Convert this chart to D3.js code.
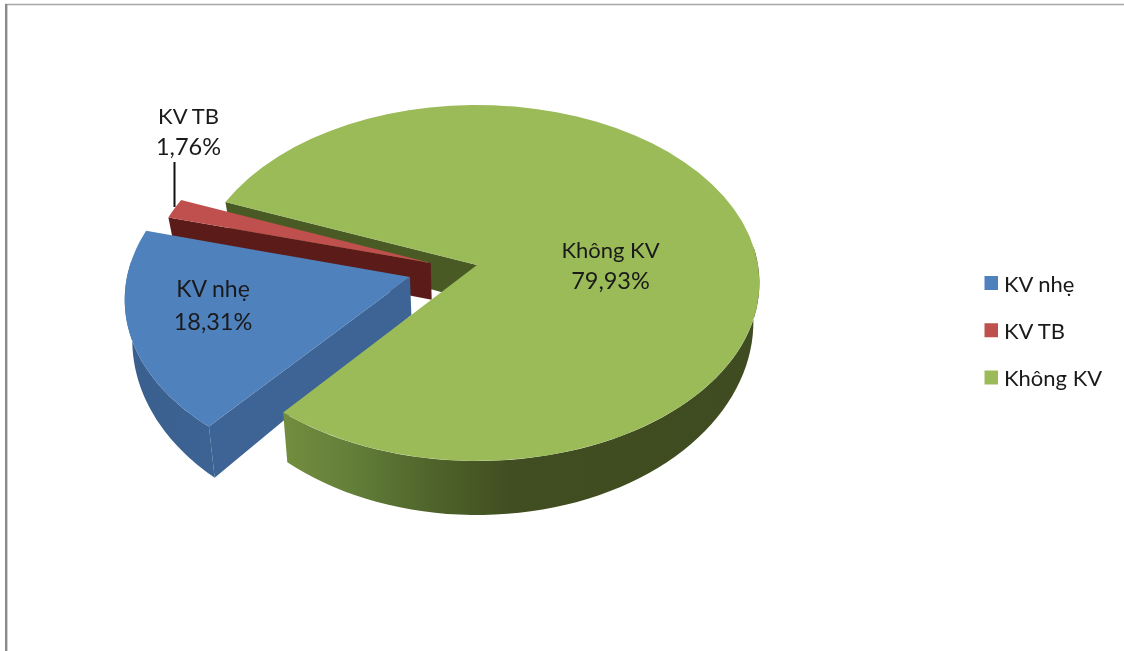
<!DOCTYPE html>
<html><head><meta charset="utf-8">
<script src="https://cdn.jsdelivr.net/npm/d3@7"></script>
<style>html,body{margin:0;padding:0;background:#fff}svg{display:block;font-family:Lato,"Open Sans",sans-serif;filter:blur(0.35px)}</style>
</head><body><div id="c"></div>
<script>
const categories = ["KV nhẹ", "KV TB", "Không KV"];
const values = [18.31, 1.76, 79.93];
const valueLabels = ["18,31%", "1,76%", "79,93%"];
const topColors = ["#4f81bd", "#c0504d", "#9bbb59"];
const wallColors = ["#3d6494", "#5a1b19", "#4a5a25"];

const W = 1124, H = 651;
const svg = d3.select("#c").append("svg").attr("width", W).attr("height", H);

// Frame of the screenshot
svg.append("rect").attr("x", 5).attr("y", 4).attr("width", W).attr("height", H).attr("fill", "#fff");
svg.append("line").attr("x1", 5).attr("x2", W).attr("y1", 4.5).attr("y2", 4.5).attr("stroke", "#a6a6a6").attr("stroke-width", 1.5);
svg.append("line").attr("x1", 6.2).attr("x2", 6.2).attr("y1", 4).attr("y2", H).attr("stroke", "#8a8a8a").attr("stroke-width", 2.4);

// Perspective plane projections for top and bottom of the pie
const cx = 477, persp = -0.101;
const plane = (d, a, b) => ([u, v]) => {
  const k = 1 + persp * v;
  return [cx + d * u / k, (a * v + b) / k];
};
const topP = plane(281, 149.4, 265);
const botP = plane(275, 161, 302);

const start = 219.5 * Math.PI / 180;
const arcs = d3.pie().sort(null).startAngle(start).endAngle(start + 2 * Math.PI)(values);
const offsets = [[-0.237, 0.068], [-0.165, -0.012], [0, 0]];
const line = d3.line();

const pt = (i, t) => [Math.sin(t) + offsets[i][0], -Math.cos(t) + offsets[i][1]];
const apex = i => offsets[i];
const sample = (a, b) => d3.range(0, 61).map(k => a + (b - a) * k / 60);

function sector(i) {
  const a = arcs[i];
  return line([apex(i), ...sample(a.startAngle, a.endAngle).map(t => pt(i, t))].map(topP)) + "Z";
}
function outerWall(i, a, b) {
  const ts = sample(a, b);
  return line([...ts.map(t => topP(pt(i, t))), ...ts.slice().reverse().map(t => botP(pt(i, t)))]) + "Z";
}
function sideWall(i, t) {
  const p = pt(i, t), q = apex(i);
  return line([topP(q), topP(p), botP(p), botP(q)]) + "Z";
}

const defs = svg.append("defs");
const g = defs.append("linearGradient").attr("id", "gw").attr("gradientUnits", "userSpaceOnUse")
  .attr("x1", 285).attr("x2", 760).attr("y1", 0).attr("y2", 0);
[[0, "#738d3e"], [0.13, "#64803a"], [0.3, "#50652b"], [0.47, "#414e21"], [1, "#3f4b20"]]
  .forEach(([o, c]) => g.append("stop").attr("offset", o).attr("stop-color", c));
const gb = defs.append("linearGradient").attr("id", "bw").attr("gradientUnits", "userSpaceOnUse")
  .attr("x1", 125).attr("x2", 260).attr("y1", 0).attr("y2", 0);
[[0, "#3a5f8e"], [0.6, "#3c6393"], [1, "#3a5f8e"]]
  .forEach(([o, c]) => gb.append("stop").attr("offset", o).attr("stop-color", c));

const pie = svg.append("g");
const rad = d => d * Math.PI / 180;

// hidden-side wall of the large slice
pie.append("path").attr("d", sideWall(2, arcs[2].startAngle)).attr("fill", wallColors[2]);
// small slice
pie.append("path").attr("d", sideWall(1, arcs[1].startAngle)).attr("fill", wallColors[1]);
pie.append("path").attr("d", sector(1)).attr("fill", topColors[1]);
// first slice
pie.append("path").attr("d", outerWall(0, arcs[0].startAngle, rad(275))).attr("fill", "url(#bw)");
pie.append("path").attr("d", sideWall(0, arcs[0].startAngle)).attr("fill", wallColors[0]);
pie.append("path").attr("d", sector(0)).attr("fill", topColors[0]);
// large slice
pie.append("path").attr("d", outerWall(2, rad(444), start + 2 * Math.PI)).attr("fill", "url(#gw)");
pie.append("path").attr("d", sector(2)).attr("fill", topColors[2]);

// Leader line
svg.append("line").attr("x1", 174.5).attr("x2", 174.5).attr("y1", 162).attr("y2", 207)
  .attr("stroke", "#111").attr("stroke-width", 2);

// Data labels
const labelPos = [[213, 288, 321], [188.5, 115, 146], [610.5, 249, 280]];
const nameSize = [23, 22, 22], valueSize = 23.5, legendSize = 22;
categories.forEach((c, i) => {
  const [x, y1, y2] = labelPos[i];
  [[c, y1, nameSize[i]], [valueLabels[i], y2, valueSize]].forEach(([s, y, fs]) =>
    svg.append("text").attr("x", x).attr("y", y).attr("text-anchor", "middle")
      .attr("dominant-baseline", "central").attr("font-size", fs).attr("fill", "#1a1a1a").text(s));
});

// Legend
const legendY = d3.scalePoint().domain(categories).range([283, 377.5]);
categories.forEach((c, i) => {
  const y = legendY(c);
  svg.append("rect").attr("x", 984.5).attr("y", y - 7).attr("width", 13.5).attr("height", 14).attr("fill", topColors[i]);
  svg.append("text").attr("x", 1004).attr("y", y).attr("dominant-baseline", "central")
    .attr("font-size", legendSize).attr("fill", "#1a1a1a").text(c);
});
</script></body></html>
